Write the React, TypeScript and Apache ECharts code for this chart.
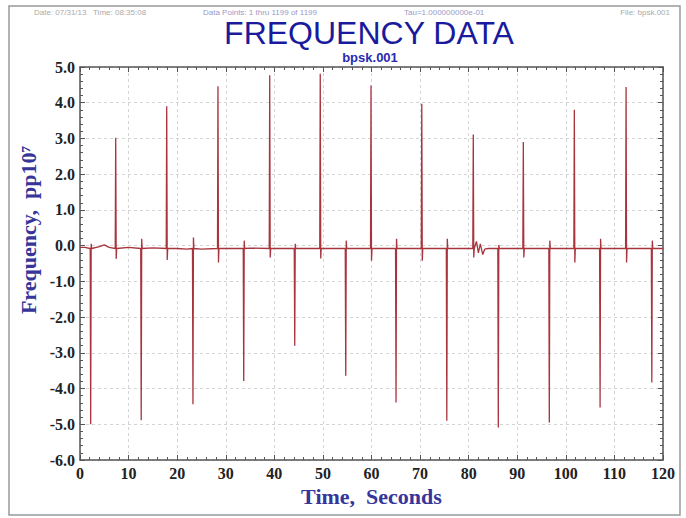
import React, { useEffect, useRef } from "react";
import * as echarts from "echarts";

// ---- data ----
const xTicks = [0, 10, 20, 30, 40, 50, 60, 70, 80, 90, 100, 110, 120];
const yTicks = [-6, -5, -4, -3, -2, -1, 0, 1, 2, 3, 4, 5];

const spikeTimes = [2.2, 7.35, 12.6, 17.85, 23.25, 28.4, 33.7, 39.05, 44.2, 49.45, 54.7, 59.9, 65.05, 70.35, 75.5, 80.95, 86.1, 91.25, 96.6, 101.75, 107.05, 112.4, 117.7];
const spikePeaks = [-5.0, 3.02, -4.89, 3.9, -4.44, 4.46, -3.79, 4.77, -2.8, 4.81, -3.64, 4.48, -4.39, 3.97, -4.9, 3.11, -5.09, 2.9, -4.95, 3.8, -4.53, 4.44, -3.83];
const spikeRebounds = [0.05, -0.37, 0.19, -0.4, 0.23, -0.47, 0.14, -0.33, 0.05, -0.36, 0.14, -0.42, 0.19, -0.42, 0.19, -0.33, 0.02, -0.33, 0.14, -0.47, 0.19, -0.47, 0.14];

const baseTimes = [0, 1, 4, 5, 6, 10, 15, 20, 22, 25, 30, 35, 40, 81.6, 82, 82.4, 82.9, 83.3, 84, 120];
const baseValues = [-0.05, -0.05, -0.03, 0.02, -0.05, -0.05, -0.06, -0.08, -0.1, -0.1, -0.08, -0.07, -0.08, 0.12, -0.2, 0.05, -0.25, -0.1, -0.08, -0.08];
const baseLevel = -0.08;

const headerTexts = ["Date: 07/31/13   Time: 08:35:08", "Data Points: 1 thru 1199 of 1199", "Tau=1.000000000e-01", "File: bpsk.001"];

function buildSeries(): [number, number][] {
  const pts: [number, number][] = [];
  baseTimes.forEach((t, i) => pts.push([t, baseValues[i]]));
  spikeTimes.forEach((t, i) => {
    pts.push([t - 0.1, baseLevel]);
    pts.push([t, spikePeaks[i]]);
    pts.push([t + 0.1, spikeRebounds[i]]);
    pts.push([t + 0.2, baseLevel]);
  });
  pts.sort((a, b) => a[0] - b[0]);
  return pts;
}

export default function App() {
  const ref = useRef<HTMLDivElement>(null);
  useEffect(() => {
    if (!ref.current) return;
    const chart = echarts.init(ref.current, undefined, { renderer: "svg" });
    const frame = "#555";
    const labelFont = { fontFamily: "Liberation Serif", fontWeight: "bold" as const, fontSize: 16, color: "#222" };
    const splitLine = { show: true, lineStyle: { color: "#d4d4d4", type: [3, 3] as any, width: 1 } };
    const common = {
      axisLine: { show: true, onZero: false, lineStyle: { color: frame, width: 1.5 } },
      axisTick: { show: true, inside: true, length: 5, lineStyle: { color: frame } },
      minorTick: { show: true, splitNumber: 5, length: 3, lineStyle: { color: frame } },
    };
    chart.setOption({
      animation: false,
      backgroundColor: "#fff",
      grid: { left: 80, right: 23, top: 67, bottom: 58 },
      graphic: [
        { type: "rect", shape: { x: 9, y: 6, width: 671, height: 509 }, style: { fill: "none", stroke: "#999", lineWidth: 1.5 }, silent: true },
        { type: "text", left: 34, top: 8, style: { text: headerTexts[0], fontSize: 8, fill: "#aaa", fontFamily: "Liberation Sans" } },
        { type: "text", left: 203, top: 8, style: { text: headerTexts[1], fontSize: 8, fill: "#9a9ac8", fontFamily: "Liberation Sans" } },
        { type: "text", left: 404, top: 8, style: { text: headerTexts[2], fontSize: 8, fill: "#9a9ac8", fontFamily: "Liberation Sans" } },
        { type: "text", right: 16, top: 8, style: { text: headerTexts[3], fontSize: 8, fill: "#aaa", fontFamily: "Liberation Sans" } },
        {
          type: "text", x: 28, y: 230, rotation: Math.PI / 2,
          style: {
            text: "Frequency,  pp10⁷", align: "center", verticalAlign: "middle",
            fontFamily: "Liberation Serif", fontWeight: "bold", fontSize: 22, fill: "#35359a",
          },
        },
      ],
      title: [
        { text: "FREQUENCY DATA", left: 364, top: 12, textAlign: "center",
          textStyle: { fontFamily: "Liberation Sans", fontSize: 32, fontWeight: "normal", color: "#1a1a9c" } },
        { text: "bpsk.001", left: 365, top: 46, textAlign: "center",
          textStyle: { fontFamily: "Liberation Sans", fontSize: 13, fontWeight: "bold", color: "#2a2ab0" } },
      ],
      xAxis: [
        {
          type: "value", min: xTicks[0], max: xTicks[xTicks.length - 1], interval: 10, position: "bottom",
          ...common,
          axisLabel: { ...labelFont, margin: 5, formatter: (v: number) => String(v) },
          splitLine,
          name: "Time,  Seconds", nameLocation: "middle", nameGap: 19,
          nameTextStyle: { fontFamily: "Liberation Serif", fontWeight: "bold", fontSize: 22, color: "#35359a" },
        },
        {
          type: "value", min: xTicks[0], max: xTicks[xTicks.length - 1], interval: 10, position: "top",
          ...common, axisLabel: { show: false }, splitLine: { show: false },
        },
      ],
      yAxis: [
        {
          type: "value", min: yTicks[0], max: yTicks[yTicks.length - 1], interval: 1, position: "left",
          ...common,
          axisLabel: { ...labelFont, margin: 5, formatter: (v: number) => v.toFixed(1) },
          splitLine,
        },
        {
          type: "value", min: yTicks[0], max: yTicks[yTicks.length - 1], interval: 1, position: "right",
          ...common, axisLabel: { show: false }, splitLine: { show: false },
        },
      ],
      series: [
        {
          type: "line", data: buildSeries(), showSymbol: false, symbol: "none",
          lineStyle: { color: "#a8343e", width: 1.3 },
          xAxisIndex: 0, yAxisIndex: 0,
        },
      ],
    });
    return () => chart.dispose();
  }, []);
  return <div ref={ref} style={{ position: "fixed", left: 0, top: 0, width: 686, height: 518 }} />;
}
